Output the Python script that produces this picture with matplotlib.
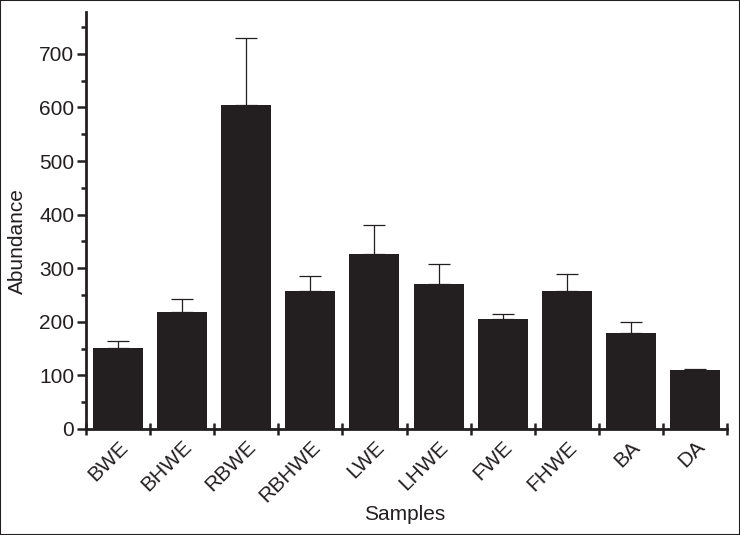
import matplotlib
matplotlib.use("Agg")
import matplotlib.pyplot as plt
from matplotlib.patches import Rectangle
import numpy as np

plt.rcParams['font.family'] = ['Liberation Sans', 'DejaVu Sans']

samples = ["BWE", "BHWE", "RBWE", "RBHWE", "LWE", "LHWE", "FWE", "FHWE", "BA", "DA"]
abundance = [152, 218, 604, 257, 326, 271, 205, 257, 179, 111]
errors = [13, 25, 125, 29, 54, 36, 9, 33, 20, 1.5]

ink = "#231f20"
fs = 15

fig = plt.figure(figsize=(7.4, 5.35), dpi=100)
ax = fig.add_axes([86 / 740, 1 - 429 / 535, (727 - 86) / 740, (429 - 12) / 535])

x = np.arange(len(samples))
ax.bar(x, abundance, width=0.78, color=ink, zorder=2)
ax.errorbar(x, abundance, yerr=[np.zeros(len(errors)), errors], fmt="none",
            ecolor=ink, elinewidth=0.9, capsize=8, capthick=0.9, zorder=1)

ax.set_xlim(-0.5, len(samples) - 0.5)
ax.set_ylim(0, 778)

for s in ["top", "right"]:
    ax.spines[s].set_visible(False)
for s in ["left", "bottom"]:
    ax.spines[s].set_linewidth(2.0)
    ax.spines[s].set_color(ink)

# y ticks
ax.set_yticks(np.arange(0, 701, 100))
ax.set_yticks(np.arange(50, 751, 100), minor=True)
ax.tick_params(axis="y", which="major", direction="out", length=6.5, width=1.8,
               color=ink, labelsize=fs, labelcolor=ink, pad=2)
ax.tick_params(axis="y", which="minor", direction="out", length=3.5, width=1.8, color=ink)

# x ticks: labels at centres, tick marks at boundaries
ax.set_xticks(x)
ax.set_xticklabels(samples, rotation=45, ha="right", va="top", rotation_mode="anchor")
ax.set_xticks(np.arange(-0.5, len(samples), 1), minor=True)
ax.tick_params(axis="x", which="major", length=0, labelsize=fs, labelcolor=ink, pad=6)
ax.tick_params(axis="x", which="minor", direction="inout", length=8, width=1.8, color=ink)

ax.set_xlabel("Samples", fontsize=fs, color=ink, va="center")
ax.xaxis.set_label_coords(0.497, (429 - 514) / 417)
ax.set_ylabel("Abundance", fontsize=fs, color=ink, va="center")
ax.yaxis.set_label_coords((17 - 86) / 641, 0.451)

fig.patches.append(Rectangle((0, 0), 1, 1, transform=fig.transFigure,
                             fill=False, edgecolor=ink, linewidth=1.5))

fig.savefig("out.png", dpi=100)
